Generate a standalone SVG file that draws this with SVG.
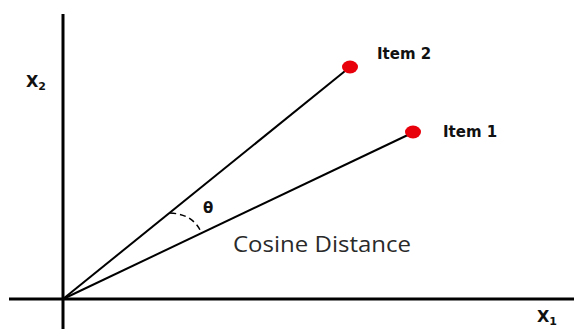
<svg xmlns="http://www.w3.org/2000/svg" width="574" height="329" viewBox="0 0 574 329">
<style>
.axis{stroke:#000;stroke-width:3;fill:none}
.vec{stroke:#000;stroke-width:2;fill:none}
.dot{fill:#e8000b}
.lbl{font-family:"DejaVu Sans","Liberation Sans",sans-serif;font-weight:bold;fill:#111}
.cap{font-family:"Open Sans","Liberation Sans",sans-serif;fill:#2a2a2a;font-size:21px}
</style>
<rect width="574" height="329" fill="#fff"/>
<g id="axes">
<line class="axis" x1="63" y1="14" x2="63" y2="329"/>
<line class="axis" x1="9" y1="299" x2="574" y2="299"/>
<text class="lbl" x="26" y="87" font-size="16">X<tspan font-size="11" dy="3">2</tspan></text>
<text class="lbl" x="537" y="322" font-size="16">X<tspan font-size="11" dy="3">1</tspan></text>
</g>
<g id="connectors">
<line class="vec" x1="63" y1="299" x2="350" y2="67"/>
<line class="vec" x1="63" y1="299" x2="412" y2="133"/>
<path d="M170,213 Q193,214 201,232" stroke="#000" stroke-width="1.5" fill="none" stroke-dasharray="6,4"/>
</g>
<g id="item2">
<ellipse class="dot" cx="350" cy="67" rx="8" ry="6.5"/>
<text class="lbl" x="377" y="59" font-size="15">Item 2</text>
</g>
<g id="item1">
<ellipse class="dot" cx="413" cy="132" rx="8" ry="6.5"/>
<text class="lbl" x="443" y="137" font-size="15">Item 1</text>
</g>
<g id="theta">
<text class="lbl" x="203" y="213" font-size="15">θ</text>
</g>
<g id="caption">
<text class="cap" x="233" y="252" textLength="178" lengthAdjust="spacingAndGlyphs">Cosine Distance</text>
</g>
</svg>
